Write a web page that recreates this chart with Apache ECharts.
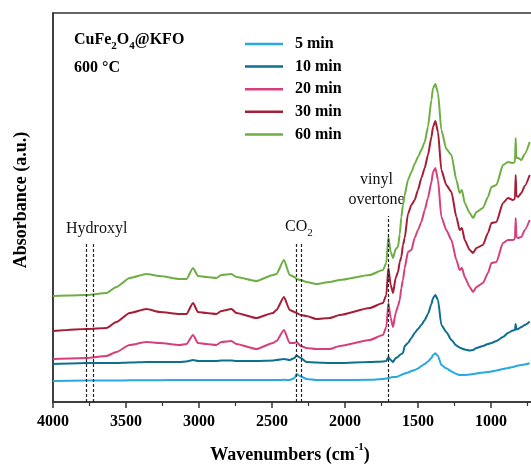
<!DOCTYPE html>
<html>
<head>
<meta charset="utf-8">
<script src="https://cdn.jsdelivr.net/npm/echarts@6/dist/echarts.min.js"></script>
<style>html,body{margin:0;padding:0;background:#fff;}#c{width:531px;height:465px;}</style>
</head>
<body>
<div id="c"></div>
<script>
const wavenumbers = [4000,3771,3634,3566,3475,3360,3269,3132,3086,3041,3007,2949,2881,2847,2778,2744,2607,2493,2470,2418,2379,2345,2333,2303,2264,2196,2105,2036,1831,1740,1717,1703,1687,1671,1653,1637,1625,1614,1603,1591,1569,1545,1523,1500,1477,1454,1432,1408,1397,1381,1363,1340,1306,1271,1237,1215,1199,1180,1146,1123,1100,1055,1021,997,963,918,884,850,836,831,826,815,792,769,735];

const seriesNames = ['5 min','10 min','20 min','30 min','60 min'];

const min5 = [0.21,0.215,0.215,0.215,0.217,0.218,0.218,0.22,0.22,0.22,0.22,0.22,0.22,0.22,0.22,0.22,0.22,0.22,0.22,0.222,0.22,0.24,0.28,0.255,0.23,0.22,0.22,0.22,0.222,0.23,0.235,0.24,0.245,0.25,0.25,0.255,0.265,0.27,0.28,0.285,0.295,0.31,0.32,0.335,0.36,0.38,0.405,0.44,0.47,0.487,0.46,0.37,0.337,0.305,0.28,0.27,0.27,0.27,0.275,0.28,0.285,0.295,0.30,0.305,0.315,0.33,0.34,0.35,0.355,0.36,0.36,0.365,0.37,0.375,0.387];

const min10 = [0.38,0.39,0.39,0.39,0.395,0.40,0.40,0.40,0.405,0.42,0.41,0.41,0.41,0.415,0.415,0.41,0.41,0.415,0.42,0.43,0.42,0.44,0.465,0.44,0.40,0.395,0.39,0.39,0.40,0.405,0.41,0.45,0.42,0.40,0.44,0.45,0.47,0.48,0.49,0.56,0.59,0.64,0.69,0.73,0.77,0.82,0.88,0.98,1.04,1.07,1.02,0.77,0.70,0.62,0.565,0.545,0.535,0.525,0.515,0.52,0.54,0.56,0.58,0.59,0.61,0.65,0.69,0.715,0.72,0.78,0.725,0.73,0.75,0.77,0.805];

const min20 = [0.43,0.44,0.46,0.50,0.57,0.60,0.59,0.57,0.58,0.67,0.59,0.58,0.57,0.60,0.61,0.58,0.53,0.59,0.61,0.72,0.59,0.59,0.60,0.56,0.54,0.53,0.53,0.56,0.62,0.67,0.75,0.99,0.84,0.75,0.89,0.96,1.02,1.14,1.22,1.34,1.50,1.52,1.64,1.72,1.80,1.92,2.04,2.20,2.30,2.34,2.22,1.85,1.72,1.62,1.42,1.32,1.34,1.25,1.15,1.10,1.15,1.19,1.29,1.39,1.40,1.59,1.62,1.62,1.63,1.84,1.65,1.64,1.65,1.72,1.82];

const min30 = [0.71,0.73,0.74,0.80,0.89,0.93,0.90,0.88,0.88,0.99,0.90,0.89,0.88,0.91,0.93,0.89,0.84,0.89,0.92,1.05,0.92,0.90,0.89,0.87,0.86,0.83,0.84,0.87,0.94,0.99,1.07,1.34,1.17,1.09,1.24,1.30,1.40,1.45,1.57,1.64,1.88,1.97,2.02,2.12,2.24,2.34,2.47,2.65,2.75,2.81,2.70,2.32,2.17,2.10,1.85,1.72,1.74,1.62,1.52,1.49,1.54,1.57,1.69,1.79,1.80,1.99,2.04,2.02,2.03,2.27,2.06,2.05,2.09,2.16,2.27];

const min60 = [1.06,1.07,1.09,1.15,1.24,1.28,1.26,1.23,1.23,1.34,1.26,1.25,1.24,1.27,1.28,1.25,1.21,1.27,1.28,1.42,1.27,1.25,1.23,1.22,1.20,1.18,1.20,1.22,1.27,1.32,1.39,1.65,1.50,1.44,1.53,1.55,1.68,1.85,1.97,2.07,2.22,2.30,2.38,2.45,2.52,2.60,2.75,3.02,3.14,3.18,3.09,2.72,2.53,2.47,2.22,2.09,2.12,1.99,1.89,1.84,1.90,1.94,2.05,2.15,2.17,2.37,2.40,2.39,2.40,2.64,2.44,2.44,2.42,2.48,2.60];

const xTicks = [4000,3500,3000,2500,2000,1500,1000];
const hydroxylLines = [3771, 3726];
const co2Lines = [2333, 2303];
const vinylLines = [1705];

const colors = ['#27a9e1','#0f6f8f','#d63f7c','#a61d36','#6fae43'];
const allSeries = [min5, min10, min20, min30, min60];

const serif = 'Liberation Serif, Times New Roman, serif';

const chart = echarts.init(document.getElementById('c'));

function mlPair(x, yTop){ return [{coord:[x, 0]}, {coord:[x, yTop]}]; }

const series = allSeries.map((arr, i) => ({
  name: seriesNames[i],
  type: 'line',
  data: wavenumbers.map((w, j) => [w, arr[j]]),
  symbol: 'none',
  smooth: 0.2,
  smoothMonotone: 'x',
  lineStyle: { width: 2, color: colors[i] },
  itemStyle: { color: colors[i] },
  z: 3,
  markLine: i === 0 ? {
    silent: true,
    symbol: 'none',
    label: { show: false },
    lineStyle: { type: [3, 2], color: '#222', width: 1.2 },
    data: [
      ...hydroxylLines.map(x => mlPair(x, 1.59)),
      ...co2Lines.map(x => mlPair(x, 1.59)),
      ...vinylLines.map(x => mlPair(x, 1.86))
    ]
  } : undefined
}));

chart.setOption({
  animation: false,
  backgroundColor: '#fff',
  grid: { left: 53, width: 511, top: 13, height: 389, outerBoundsMode: 'none', containLabel: false,
          show: true, borderColor: '#333', borderWidth: 1.5 },
  xAxis: {
    type: 'value', min: 500, max: 4000, interval: 500, inverse: true,
    axisLine: { show: true, lineStyle: { color: '#333', width: 1.5 } },
    axisTick: { show: true, inside: false, length: 6, lineStyle: { color: '#333', width: 1.5 } },
    minorTick: { show: true, splitNumber: 2, length: 4, lineStyle: { color: '#333', width: 1.2 } },
    splitLine: { show: false },
    axisLabel: {
      margin: 12, color: '#000', fontFamily: serif, fontWeight: 'bold', fontSize: 16,
      formatter: v => xTicks.includes(v) ? String(v) : ''
    }
  },
  yAxis: {
    type: 'value', min: 0, max: 3.89,
    axisLine: { show: true, lineStyle: { color: '#333', width: 1.5 } },
    axisTick: { show: false }, axisLabel: { show: false }, splitLine: { show: false }
  },
  legend: {
    orient: 'vertical', left: 240, top: 31,
    icon: 'rect',
    itemWidth: 38, itemHeight: 2.5, itemGap: 6.6,
    data: seriesNames,
    textStyle: { fontFamily: serif, fontWeight: 'bold', fontSize: 16, color: '#000', lineHeight: 16, padding: [0,0,0,7] }
  },
  series: series,
  graphic: [
    { type: 'text', left: 74, top: 32, style: {
      text: '{a|CuFe}{s|2}{a|O}{s|4}{a|@KFO}',
      rich: { a: { fontFamily: serif, fontWeight: 'bold', fontSize: 16, fill: '#000', verticalAlign: 'top', lineHeight: 20 },
              s: { fontFamily: serif, fontWeight: 'bold', fontSize: 11, fill: '#000', verticalAlign: 'bottom', lineHeight: 20, padding: [9,0,0,0] } } } },
    { type: 'text', left: 74, top: 60, style: { text: '600 °C', font: 'bold 16px ' + serif, fill: '#000' } },
    { type: 'text', left: 66, top: 221, style: { text: 'Hydroxyl', font: '16px ' + serif, fill: '#111' } },
    { type: 'text', left: 285, top: 219, style: {
      text: '{a|CO}{s|2}',
      rich: { a: { fontFamily: serif, fontSize: 16, fill: '#111', verticalAlign: 'top', lineHeight: 20 },
              s: { fontFamily: serif, fontSize: 11, fill: '#111', verticalAlign: 'bottom', lineHeight: 20, padding: [9,0,0,0] } } } },
    { type: 'text', x: 376.5, y: 180, style: { text: 'vinyl', font: '16px ' + serif, fill: '#111', align: 'center', verticalAlign: 'middle' } },
    { type: 'text', x: 376.5, y: 200, style: { text: 'overtone', font: '16px ' + serif, fill: '#111', align: 'center', verticalAlign: 'middle' } },
    { type: 'text', x: 290, y: 442, style: {
      text: '{b|Wavenumbers (cm}{p|-1}{b|)}', align: 'center',
      rich: { b: { fontFamily: serif, fontWeight: 'bold', fontSize: 18, fill: '#000', verticalAlign: 'bottom', lineHeight: 22 },
              p: { fontFamily: serif, fontWeight: 'bold', fontSize: 11, fill: '#000', verticalAlign: 'top', lineHeight: 22 } } } },
    { type: 'text', x: 21, y: 200, rotation: Math.PI / 2, style: { text: 'Absorbance (a.u.)', font: 'bold 18px ' + serif, fill: '#000', align: 'center', verticalAlign: 'middle' } }
  ]
});
</script>
</body>
</html>
